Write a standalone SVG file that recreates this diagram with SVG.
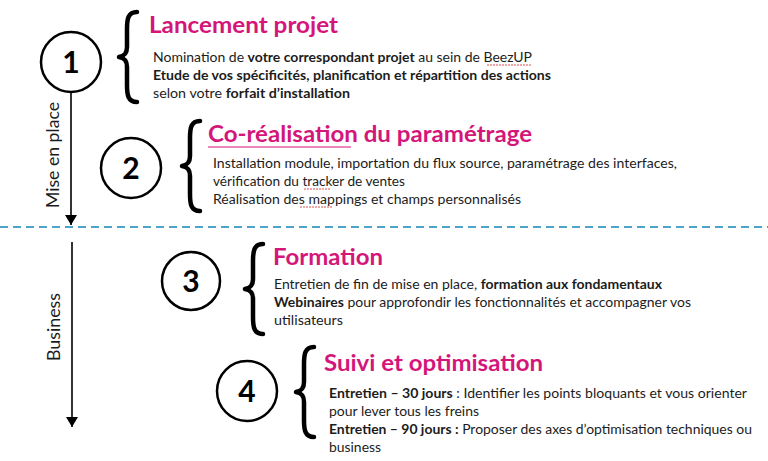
<svg xmlns="http://www.w3.org/2000/svg" width="768" height="461" viewBox="0 0 768 461">
<style>
.t{font-family:Lato,"Open Sans","Liberation Sans",sans-serif;font-weight:bold;font-size:23px;fill:#d4157a}
.b{font-family:Lato,"Open Sans","Liberation Sans",sans-serif;font-size:13.5px;fill:#1c1c1c}
.b tspan.k{font-weight:bold}
.v{font-family:Lato,"Open Sans","Liberation Sans",sans-serif;font-size:18px;fill:#1c1c1c}
.c{fill:none;stroke:#000;stroke-width:2.5}
.n{font-family:Lato,"Open Sans","Liberation Sans",sans-serif;font-weight:bold;font-size:30px;fill:#000;text-anchor:middle}
.br{fill:none;stroke:#000;stroke-width:4.5;stroke-linecap:round;stroke-linejoin:round}
.ln{stroke:#000;stroke-width:1.6;fill:none}
.sp{stroke:#d9534f;stroke-width:1;fill:none;stroke-dasharray:2 1}
</style>
<defs>
<marker id="ah" viewBox="0 0 10 12" refX="10" refY="6" markerWidth="10" markerHeight="12" markerUnits="userSpaceOnUse" orient="auto">
<path d="M0,0 L10,6 L0,12 Z" fill="#000"/>
</marker>
<path id="brace" d="M19,1 C10,1 9,8 9,18 L9,36 C9,43 6,45 1,46 C6,47 9,49 9,56 L9,74 C9,84 10,91 19,91"/>
</defs>
<rect width="768" height="461" fill="#fff"/>

<g id="connectors">
<line class="ln" x1="71" y1="92" x2="71" y2="225" marker-end="url(#ah)"/>
<line class="ln" x1="72" y1="242" x2="72" y2="427" marker-end="url(#ah)"/>
<line x1="0" y1="227" x2="768" y2="227" stroke="#4da3c9" stroke-width="2" stroke-dasharray="8 5"/>
</g>

<g id="label-mise">
<text class="v" transform="translate(59,155) rotate(-90)" text-anchor="middle" textLength="106" lengthAdjust="spacingAndGlyphs">Mise en place</text>
</g>
<g id="label-business">
<text class="v" transform="translate(60,327) rotate(-90)" text-anchor="middle" textLength="68" lengthAdjust="spacingAndGlyphs">Business</text>
</g>

<g id="step1">
<circle class="c" cx="71" cy="62" r="30"/>
<text class="n" x="71" y="73">1</text>
<use href="#brace" class="br" transform="translate(118,11)"/>
<text class="t" x="149" y="33" textLength="189" lengthAdjust="spacingAndGlyphs">Lancement projet</text>
<text class="b" x="153" y="62" textLength="379" lengthAdjust="spacingAndGlyphs">Nomination de <tspan class="k">votre correspondant projet</tspan> au sein de BeezUP</text>
<line class="sp" x1="487" y1="65" x2="532" y2="65"/>
<text class="b" x="153" y="80" textLength="398" lengthAdjust="spacingAndGlyphs"><tspan class="k">Etude de vos spécificités, planification et répartition des actions</tspan></text>
<text class="b" x="153" y="98" textLength="197" lengthAdjust="spacingAndGlyphs">selon votre <tspan class="k">forfait d’installation</tspan></text>
</g>

<g id="step2">
<circle class="c" cx="131" cy="168" r="30"/>
<text class="n" x="131" y="179">2</text>
<use href="#brace" class="br" transform="translate(181,120)"/>
<text class="t" x="208" y="142" textLength="324" lengthAdjust="spacingAndGlyphs">Co-réalisation du paramétrage</text>
<line x1="208" y1="147" x2="351" y2="147" stroke="#d4157a" stroke-width="1.2"/>
<text class="b" x="213" y="168" textLength="464" lengthAdjust="spacingAndGlyphs">Installation module, importation du flux source, paramétrage des interfaces,</text>
<text class="b" x="213" y="186" textLength="192" lengthAdjust="spacingAndGlyphs">vérification du tracker de ventes</text>
<line class="sp" x1="304" y1="189" x2="330" y2="189"/>
<text class="b" x="213" y="204" textLength="308" lengthAdjust="spacingAndGlyphs">Réalisation des mappings et champs personnalisés</text>
<line class="sp" x1="300" y1="207" x2="333" y2="207"/>
</g>

<g id="step3">
<circle class="c" cx="191" cy="281" r="29"/>
<text class="n" x="191" y="292">3</text>
<use href="#brace" class="br" transform="translate(244,243)"/>
<text class="t" x="273" y="265" textLength="110" lengthAdjust="spacingAndGlyphs">Formation</text>
<text class="b" x="274" y="289" textLength="388" lengthAdjust="spacingAndGlyphs">Entretien de fin de mise en place, <tspan class="k">formation aux fondamentaux</tspan></text>
<text class="b" x="274" y="307" textLength="417" lengthAdjust="spacingAndGlyphs"><tspan class="k">Webinaires</tspan> pour approfondir les fonctionnalités et accompagner vos</text>
<text class="b" x="274" y="325" textLength="69" lengthAdjust="spacingAndGlyphs">utilisateurs</text>
</g>

<g id="step4">
<circle class="c" cx="247" cy="391" r="30"/>
<text class="n" x="247" y="402">4</text>
<use href="#brace" class="br" transform="translate(295,346)"/>
<text class="t" x="324" y="371" textLength="219" lengthAdjust="spacingAndGlyphs">Suivi et optimisation</text>
<text class="b" x="329" y="398" textLength="418" lengthAdjust="spacingAndGlyphs"><tspan class="k">Entretien – 30 jours</tspan>  : Identifier les points bloquants et vous orienter</text>
<text class="b" x="329" y="416" textLength="150" lengthAdjust="spacingAndGlyphs">pour lever tous les freins</text>
<text class="b" x="329" y="434" textLength="423" lengthAdjust="spacingAndGlyphs"><tspan class="k">Entretien – 90 jours :</tspan> Proposer des axes d’optimisation techniques ou</text>
<text class="b" x="329" y="452" textLength="52" lengthAdjust="spacingAndGlyphs">business</text>
</g>
</svg>
